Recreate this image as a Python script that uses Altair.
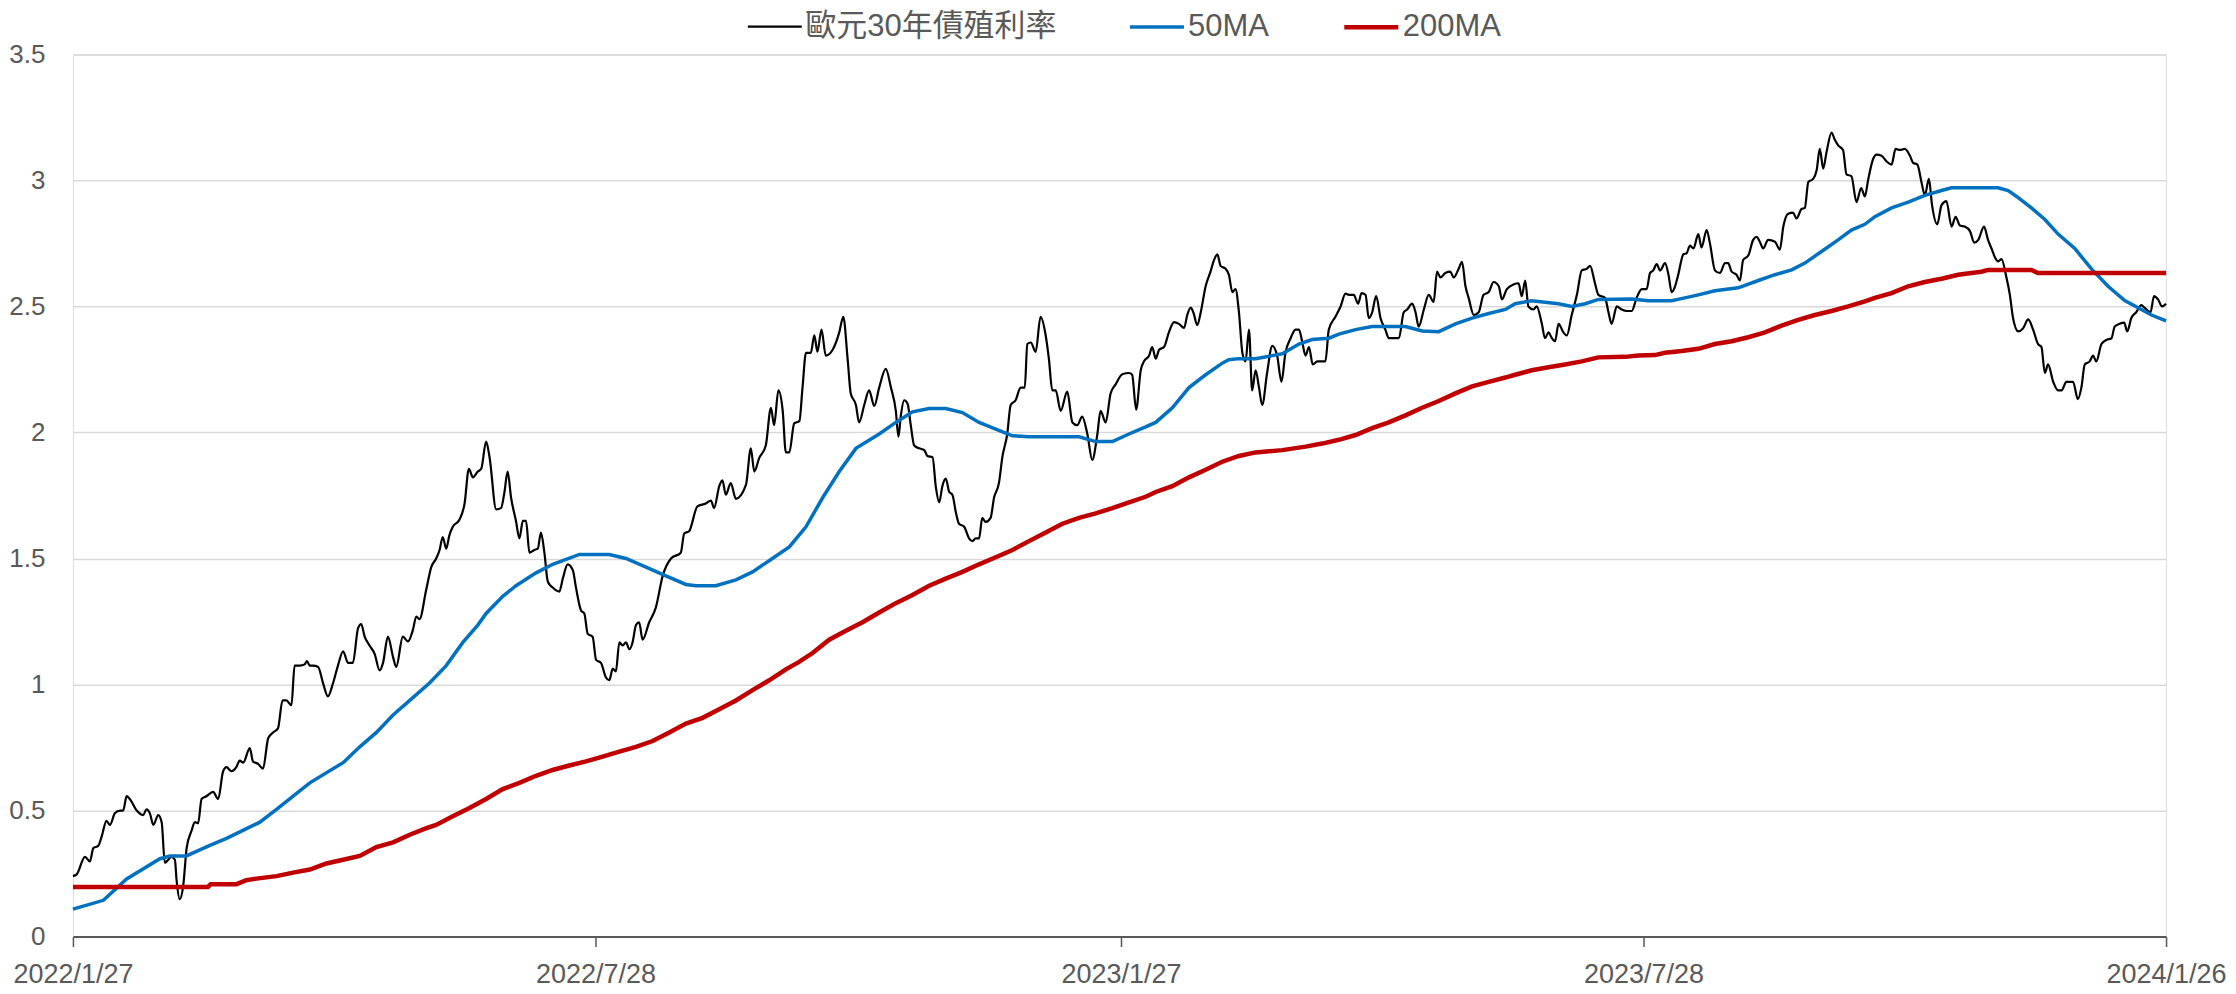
import altair as alt
import pandas as pd

SERIES = ["歐元30年債殖利率", "50MA", "200MA"]
COLORS = ["#000000", "#0070C0", "#C00000"]
WIDTHS = [2.2, 3.5, 4.5]
START = "2022-01-27"
X_TICKS = [(2022, 1, 27), (2022, 7, 28), (2023, 1, 27), (2023, 7, 28), (2024, 1, 26)]
Y_TICKS = [0, 0.5, 1, 1.5, 2, 2.5, 3, 3.5]

# day offsets from 2022-01-27 and values
yield_days = [
    0, 1.3, 4.2, 5.9, 7.1, 8.8, 10, 11.7, 12.9, 14.6, 16.4, 17.5, 18.7, 19.8, 22.2, 24.5, 25.6, 26.8, 28, 29.7,
    30.9, 32, 33.2, 34.3, 35.5, 36.1, 37.2, 38.4, 39.6, 41.3, 42.5, 43.6, 44.8, 46.5, 48.8, 50.6, 52.3, 53.5, 55.2, 56.9,
    58.1, 59.3, 61.6, 62.7, 64.5, 66.2, 68, 69.7, 71.4, 73, 74.3, 76.1, 77.2, 79, 80.7, 81.5, 82.5, 83.6, 85.4, 87.1,
    88.8, 90.6, 92.3, 94.1, 95.8, 97.5, 99.3, 100.4, 101.6, 103.3, 105.1, 106.8, 108, 109.7, 111.5, 112.6, 114.9, 116.7, 118.4, 119.6,
    120.7,
    123, 124.8, 126.5, 127.7, 128.8, 130, 131.1, 132.3, 134.6, 136.4, 137.9, 139.3, 141, 142.2, 143.9, 145.1, 147.4, 149.1, 150.3, 151.4,
    152.6, 154.3, 155.5, 156.7, 157.8, 159, 160.7, 161.9, 163, 164.2, 165.4, 167.1, 169.4, 170.6, 172.3, 174.1, 175.2, 177, 178.1, 179.3,
    181, 182.2, 183.9, 185.6, 186.8, 188, 189.1, 190.3, 191.5, 192.6, 193.8, 194.9, 196.1, 197.2, 198.4, 200.7, 203, 205.4, 208.3, 211.7,
    212.9, 214.6, 217.5, 220.4, 222.2, 223.3, 225.1, 226.2, 227.4, 229.1, 230.9, 234.4, 236.1, 237.3, 239, 241.3, 243.1, 244.2, 245.7,
    247.2, 248.3, 249.5, 251.2, 253, 254.1, 255.3, 257, 258.2, 259.3, 260.7, 262.2, 264.6, 266.9, 268.3, 269.8, 270.9, 272.7, 273.8, 275.6,
    277.3, 279.1, 280.8, 283.1, 284.9, 286.6, 287.5, 288.3, 289.5, 290.7, 291.8, 293, 294.7, 296.5, 297.6, 299.4, 300.5, 301.7, 302.8, 304,
    305.2, 306.3, 307.5, 308.6, 310.4, 312.1, 313.3, 314.4, 315.6, 316.7, 317.9, 319.6, 320.8, 322.5, 323.7, 325.4, 326.6, 328.3, 330.1, 331.5,
    332.4, 333.6, 335.3, 337, 338.8, 339.9, 341.1, 342.3, 344, 346.3, 348.1, 349.8, 351.5, 353.3, 355, 356.8, 357.9, 359.7, 361.4, 363.1,
    365.5, 367.8, 368.9, 370.3,
    371.9, 373, 374.8, 375.9, 377.1, 378.3, 380, 381.7, 383.5, 385.2, 387, 388.1, 389.3, 390.2, 391.6, 392.8, 394.5, 396.2, 397.4, 398.6,
    399.7, 401.5, 402.6, 403.8, 404.9, 406.1, 407.3, 408.4, 409.6, 410.7, 411.9, 413.1, 414.2, 415.9, 417.7, 419.4, 420.9, 422.3, 424.1, 425.8,
    427, 428.1, 429.3, 430.5, 431.8, 433.4, 436.2, 437.4, 439.7, 441.5, 443.2, 444.4, 446.1, 447.6, 448.8, 450.2, 451.3, 452.5, 453.9, 455.4,
    457.1, 458.3, 461.8, 463.5, 464.7, 466.4, 467.6, 468.7, 470.5, 472.2, 473.9, 475.1, 476.3, 478, 479.7, 480.9, 482.6, 483.8, 485, 486.1,
    487.9, 489.6, 491.3, 493.1, 494.8, 496.6, 497.7,
    499.4, 501.7, 503.5, 504.6, 505.8, 506.9, 508.7, 509.8, 511.6, 512.7, 513.9, 515.1, 516.2, 517.4, 519.1, 520.3, 522, 523.8, 525.5, 527.2,
    528.4, 530.1, 531.3, 533.6, 534.8, 535.9, 537.7, 539.4, 541.2, 542.9, 544.6, 546.4, 548.1, 549.3, 550.4, 551.6, 552.8, 554.5, 555.7, 556.8,
    558, 559.1, 560.9, 562, 563.2, 564.4, 566.1, 567.2, 569, 570.1, 571.9, 573.6, 575.4, 576.5, 577.7, 579.4, 580.6, 581.7, 583.5, 585.2,
    586.4, 587.5, 588.7, 590.4, 592.8, 594.5, 595.7, 597.4, 599.1, 600.3, 602, 603.2, 604.4, 606.1, 607.3, 608.4, 609.6, 610.7, 612.5, 613.6,
    614.8, 616.5, 617.7, 619.4, 621.2,
    622.8, 624.1, 625.3, 627, 628.2, 629.9, 631.7, 633.4, 634.8, 636.3, 638, 639.8, 640.9, 642.4, 643.8, 645, 646.4, 647.5, 649.3, 650.8,
    652.5, 654.3, 655.7, 657.2, 658.9, 660.7, 662.2, 663.6, 665.6, 667, 668.2, 669.4, 670.5, 671.7, 673.4, 674.6, 675.7, 677.5, 679.2, 681,
    682.7, 684.4, 685.6, 686.8, 687.9, 689.7, 691.4, 692.6, 694.3, 696.6, 698.3, 699.5, 700.7, 702.4, 703.6, 704.7, 706.5, 708.2, 710, 711.1,
    712.8, 714.4, 715.5, 716.9, 718.6, 720.4, 721.5, 723.6, 724.8, 726.2, 727.6, 729,
]
yield_vals = [
    0.24, 0.247, 0.316, 0.298, 0.351, 0.36, 0.397, 0.459, 0.443, 0.489, 0.50, 0.50, 0.557, 0.546, 0.50, 0.482, 0.505, 0.489, 0.443, 0.482,
    0.454, 0.293, 0.305, 0.316, 0.305, 0.224, 0.148, 0.201, 0.351, 0.42, 0.454, 0.45, 0.546, 0.557, 0.574, 0.546, 0.656, 0.672, 0.656, 0.672,
    0.698, 0.69, 0.748, 0.695, 0.685, 0.666, 0.787, 0.81, 0.826, 0.937, 0.937, 0.918, 1.075, 1.075, 1.08, 1.093, 1.075, 1.075, 1.07, 1.006,
    0.953, 1.006, 1.075, 1.132, 1.086, 1.086, 1.224, 1.24, 1.19, 1.155, 1.121, 1.056, 1.086, 1.19, 1.109, 1.07, 1.19, 1.171, 1.217, 1.27,
    1.259,
    1.374, 1.466, 1.50, 1.534, 1.585, 1.539, 1.592, 1.626, 1.654, 1.718, 1.856, 1.822, 1.845, 1.856, 1.964, 1.902, 1.695, 1.70, 1.764, 1.845,
    1.741, 1.649, 1.58, 1.649, 1.649, 1.523, 1.534, 1.539, 1.603, 1.523, 1.408, 1.385, 1.369, 1.42, 1.477, 1.454, 1.385, 1.293, 1.282, 1.201,
    1.19, 1.098, 1.086, 1.029, 1.017, 1.063, 1.052, 1.167, 1.155, 1.167, 1.14, 1.167, 1.236, 1.247, 1.178, 1.247, 1.305, 1.431, 1.50, 1.523,
    1.599, 1.608, 1.707, 1.718, 1.73, 1.70, 1.787, 1.81, 1.753, 1.799, 1.737, 1.792, 1.937, 1.845, 1.898, 1.948, 2.098, 2.029, 2.167,
    2.086, 1.921, 1.921, 2.036, 2.045, 2.178, 2.316, 2.316, 2.385, 2.321, 2.408, 2.305, 2.328, 2.397, 2.459, 2.293, 2.155, 2.109, 2.04, 2.109,
    2.167, 2.105, 2.178, 2.252, 2.178, 2.086, 1.983, 2.063, 2.128, 2.114, 2.029, 1.948, 1.937, 1.93, 1.907, 1.902, 1.787, 1.723, 1.787, 1.817,
    1.764, 1.753, 1.684, 1.638, 1.626, 1.58, 1.569, 1.58, 1.58, 1.661, 1.645, 1.661, 1.741, 1.799, 1.902, 1.994, 2.109, 2.128, 2.178, 2.178,
    2.351, 2.357, 2.32, 2.459, 2.385, 2.293, 2.167, 2.167, 2.086, 2.162, 2.04, 2.029, 2.063, 1.994, 1.891, 1.994, 2.086, 2.04, 2.155, 2.19,
    2.231, 2.236, 2.229, 2.091,
    2.247, 2.282, 2.305, 2.339, 2.293, 2.328, 2.339, 2.397, 2.438, 2.431, 2.415, 2.466, 2.495, 2.477, 2.426, 2.477, 2.58, 2.638, 2.684, 2.707,
    2.661, 2.649, 2.626, 2.557, 2.569, 2.477, 2.316, 2.282, 2.408, 2.167, 2.247, 2.178, 2.109, 2.236, 2.344, 2.305, 2.201, 2.316, 2.374, 2.408,
    2.408, 2.362, 2.305, 2.339, 2.27, 2.282, 2.282, 2.408, 2.459, 2.50, 2.551, 2.546, 2.546, 2.511, 2.553, 2.546, 2.454, 2.477, 2.541, 2.454,
    2.408, 2.374, 2.374, 2.477, 2.488, 2.511, 2.477, 2.42, 2.488, 2.546, 2.518, 2.638, 2.615, 2.633, 2.638, 2.615, 2.649, 2.677, 2.58, 2.534,
    2.466, 2.477, 2.546, 2.557, 2.597, 2.58, 2.528,
    2.569, 2.587, 2.592, 2.541, 2.603, 2.50, 2.488, 2.50, 2.431, 2.374, 2.397, 2.374, 2.362, 2.431, 2.397, 2.385, 2.466, 2.546, 2.643, 2.649,
    2.661, 2.592, 2.546, 2.534, 2.477, 2.431, 2.50, 2.488, 2.482, 2.482, 2.534, 2.569, 2.569, 2.633, 2.643, 2.668, 2.643, 2.672, 2.626, 2.557,
    2.58, 2.626, 2.707, 2.711, 2.741, 2.73, 2.787, 2.734, 2.803, 2.753, 2.643, 2.633, 2.672, 2.672, 2.638, 2.626, 2.603, 2.684, 2.702, 2.764,
    2.776, 2.757, 2.73, 2.764, 2.757, 2.725, 2.817, 2.868, 2.872, 2.849, 2.886, 2.891, 2.994, 3.006, 3.04, 3.125, 3.047, 3.109, 3.19, 3.162,
    3.139, 3.121, 3.024, 3.017, 2.914,
    2.97, 2.937, 3.006, 3.086, 3.102, 3.098, 3.075, 3.063, 3.125, 3.121, 3.125, 3.098, 3.07, 3.063, 2.994, 2.941, 3.006, 2.902, 2.826, 2.902,
    2.918, 2.817, 2.856, 2.821, 2.817, 2.799, 2.753, 2.764, 2.817, 2.764, 2.73, 2.695, 2.679, 2.688, 2.615, 2.546, 2.454, 2.401, 2.413, 2.449,
    2.408, 2.351, 2.339, 2.236, 2.27, 2.201, 2.167, 2.167, 2.201, 2.201, 2.132, 2.178, 2.27, 2.282, 2.305, 2.282, 2.351, 2.367, 2.374, 2.42,
    2.431, 2.436, 2.401, 2.454, 2.477, 2.505, 2.495, 2.477, 2.541, 2.528, 2.50, 2.511,
]

ma50_days = [
    0, 10.6, 18.7, 30.3, 33.8, 39.5, 47.7, 53.5, 65.1, 70.9, 76.7, 82.5, 94.1, 99.9, 105.7, 111.5, 117.3, 124.2, 130, 135.8,
    141, 143.9, 149.7, 154.3, 161.3, 167.1, 176.4, 186.8, 192.6, 199.6, 206.5, 213.5, 217, 223.9, 230.9, 236.7, 243.6, 249.5, 255.3, 261.1,
    266.9, 272.7, 280.8, 286.6, 292.4, 298.2, 304, 309.8, 315.6, 321.4, 327.2, 333, 350.4, 356.2, 362, 367.8, 373.6, 377.1, 382.9, 388.7,
    394.5, 400.3, 402.6, 406.1, 411.9, 417.7, 421.2, 427, 431.6, 437.4, 440.9, 446.7, 452.5, 464.1, 469.9, 475.7, 481.5, 487.3, 493.1, 498.9,
    502.3, 508.1, 517.4, 522, 526.7, 531.3, 542.9, 548.7, 556.8, 561.4, 566.1, 571.9, 580, 587, 592.8, 598.6, 603.2, 609, 614.8, 619.4,
    624.1, 627.6, 633.4, 639.2, 645, 650.8, 654.3, 670.5, 674, 677.5, 682.1, 686.8, 691.4, 697.2, 703, 708.8, 714.6, 720.4, 723.9, 729,
]
ma50_vals = [
    0.109, 0.144, 0.229, 0.309, 0.32, 0.32, 0.362, 0.39, 0.454, 0.505, 0.557, 0.61, 0.69, 0.753, 0.81, 0.879, 0.937, 1.006, 1.075, 1.167,
    1.236, 1.282, 1.35, 1.392, 1.443, 1.477, 1.516, 1.516, 1.50, 1.466, 1.431, 1.397, 1.392, 1.392, 1.415, 1.447, 1.50, 1.546, 1.626, 1.741,
    1.845, 1.937, 1.994, 2.04, 2.082, 2.095, 2.095, 2.079, 2.04, 2.013, 1.987, 1.983, 1.983, 1.964, 1.964, 1.994, 2.022, 2.04, 2.098, 2.178,
    2.229, 2.275, 2.289, 2.293, 2.293, 2.305, 2.312, 2.351, 2.369, 2.374, 2.39, 2.408, 2.42, 2.42, 2.403, 2.40, 2.431, 2.454, 2.472, 2.488,
    2.511, 2.523, 2.511, 2.50, 2.511, 2.528, 2.53, 2.523, 2.523, 2.534, 2.546, 2.562, 2.574, 2.603, 2.626, 2.645, 2.672, 2.718, 2.764, 2.803,
    2.826, 2.856, 2.891, 2.914, 2.941, 2.96, 2.971, 2.971, 2.96, 2.932, 2.891, 2.845, 2.787, 2.73, 2.649, 2.58, 2.523, 2.488, 2.466, 2.443,
]

ma200_days = [
    0, 47, 48, 57, 60.4, 63.9, 70.9, 76.7, 82.5, 88.3, 94.1, 99.9, 105.7, 111.5, 117.3, 123.1, 126.5, 132.3, 138.1, 143.9,
    149.7, 155.5, 161.3, 167.1, 172.9, 178.7, 184.5, 190.3, 196.1, 201.9, 207.7, 213.5, 219.3, 225.1, 230.9, 236.7, 242.5, 248.3, 252.9, 257.6,
    263.4, 269.2, 275, 280.8, 286.6, 292.4, 298.2, 304, 309.8, 315.6, 321.4, 327.2, 333, 338.8, 344.6, 350.4, 356.2, 362, 367.8, 373.6,
    377.1, 382.9, 388.7, 394.5, 400.3, 406.1, 411.9, 421.2, 429.3, 435.1, 440.9, 446.7, 452.5, 458.3, 464.1, 469.9, 475.7, 481.5, 487.3, 493.1,
    498.9, 502.3, 508.1, 513.9, 519.7, 525.5, 531.3, 540.6, 545.2, 551, 554.5, 560.3, 566.1, 571.9, 577.7, 583.5, 589.3, 595.1, 600.9, 606.7,
    612.5, 618.3, 624.1, 627.6, 633.4, 639.2, 645, 650.8, 656.6, 661.2, 664.7, 667, 682.1, 684.4, 729,
]
ma200_vals = [
    0.197, 0.197, 0.208, 0.208, 0.224, 0.23, 0.24, 0.254, 0.266, 0.29, 0.305, 0.32, 0.355, 0.374, 0.404, 0.43, 0.443, 0.477, 0.51, 0.546,
    0.585, 0.61, 0.638, 0.661, 0.679, 0.695, 0.714, 0.734, 0.753, 0.776, 0.81, 0.845, 0.868, 0.902, 0.937, 0.978, 1.017, 1.06, 1.09, 1.125,
    1.178, 1.213, 1.247, 1.286, 1.323, 1.355, 1.392, 1.42, 1.447, 1.477, 1.505, 1.534, 1.569, 1.603, 1.638, 1.661, 1.679, 1.70, 1.723, 1.745,
    1.764, 1.787, 1.822, 1.852, 1.884, 1.907, 1.921, 1.93, 1.944, 1.956, 1.971, 1.99, 2.017, 2.04, 2.068, 2.098, 2.125, 2.155, 2.183, 2.201,
    2.218, 2.229, 2.247, 2.259, 2.27, 2.282, 2.298, 2.30, 2.305, 2.307, 2.316, 2.323, 2.332, 2.351, 2.362, 2.378, 2.397, 2.424, 2.447, 2.466,
    2.482, 2.50, 2.52, 2.534, 2.553, 2.58, 2.597, 2.61, 2.626, 2.633, 2.638, 2.645, 2.645, 2.633, 2.633,
]

assert len(yield_days) == len(yield_vals)
assert len(ma50_days) == len(ma50_vals)
assert len(ma200_days) == len(ma200_vals)

start = pd.Timestamp(START)
frames = []
for name, days, vals in zip(SERIES, [yield_days, ma50_days, ma200_days], [yield_vals, ma50_vals, ma200_vals]):
    d = start + pd.to_timedelta(days, unit="D")
    frames.append(pd.DataFrame({
        "date": d.strftime("%Y-%m-%dT%H:%M:%SZ"),
        "value": vals,
        "series": name,
    }))
df = pd.concat(frames, ignore_index=True)

FONT = "Liberation Sans, Arial, Noto Sans CJK TC, sans-serif"
TXT = "#595959"

x_ticks = [alt.DateTime(year=y, month=m, date=d, utc=True) for (y, m, d) in X_TICKS]

legend_kw = dict(
    title=None, orient="none", legendX=674, legendY=-57, direction="horizontal",
    symbolType="stroke", symbolSize=2916, labelFont=FONT, labelFontSize=31, labelColor=TXT,
    labelOffset=2, columnPadding=66, padding=0, labelLimit=0,
)

base = alt.Chart(df).encode(
    x=alt.X(
        "date:T",
        title=None,
        scale=alt.Scale(type="utc", domain=[x_ticks[0], x_ticks[-1]], nice=False),
        axis=alt.Axis(
            values=x_ticks,
            labelExpr="utcFormat(datum.value, '%Y/%-m/%-d')",
            grid=False,
            labelFont=FONT, labelFontSize=27, labelColor=TXT,
            labelPadding=15, labelFlush=False, labelOverlap=False, labelBound=False,
            domainColor=TXT, domainWidth=2,
            tickColor=TXT, tickWidth=1.5, tickSize=10,
        ),
    ),
    y=alt.Y(
        "value:Q",
        title=None,
        scale=alt.Scale(domain=[0, 3.5], nice=False, zero=True),
        axis=alt.Axis(
            values=Y_TICKS,
            format=".1~f",
            domain=False, ticks=False, tickSize=0,
            labelFont=FONT, labelFontSize=26, labelColor=TXT, labelPadding=28,
            gridColor="#D9D9D9", gridWidth=1.5,
        ),
    ),
    color=alt.Color(
        "series:N",
        scale=alt.Scale(domain=SERIES, range=COLORS),
        legend=alt.Legend(**legend_kw),
    ),
    strokeWidth=alt.StrokeWidth(
        "series:N",
        scale=alt.Scale(type="ordinal", domain=SERIES, range=WIDTHS),
        legend=alt.Legend(**legend_kw),
    ),
)

layers = []
for i, name in enumerate(SERIES):
    interp = "monotone" if i == 0 else "linear"
    layers.append(
        base.transform_filter(alt.datum.series == name).mark_line(interpolate=interp)
    )

chart = alt.layer(*layers).properties(
    width=2095,
    height=883,
    padding={"left": 65, "top": 46, "right": 62, "bottom": 51},
    autosize=alt.AutoSizeParams(type="none"),
).configure_view(stroke=None).configure(background="white")

chart.save("out.html", embed_options={"renderer": "svg", "actions": False})
